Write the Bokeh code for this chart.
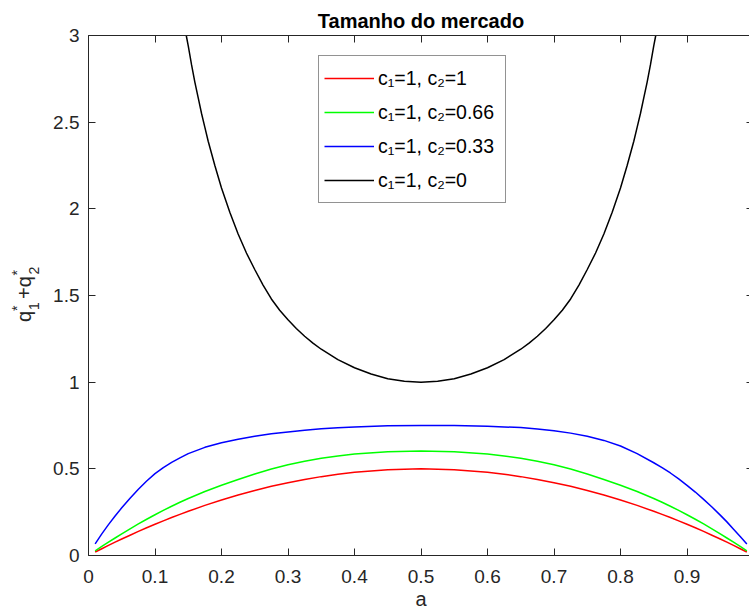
import math
from bokeh.plotting import figure
from bokeh.models import (Range1d, LinearAxis, FixedTicker, Label, Legend, LegendItem,
                          CustomLabelingPolicy)
from bokeh.embed import file_html
from bokeh.resources import INLINE

# ---- data ----
a_grid = [0.01, 0.02, 0.03, 0.04, 0.05, 0.0625, 0.075, 0.0875, 0.1, 0.1125, 0.125, 0.1375, 0.15, 0.175,
          0.2, 0.225, 0.25, 0.275, 0.3, 0.325, 0.35, 0.375, 0.4, 0.45, 0.5,
          0.55, 0.6, 0.625, 0.65, 0.675, 0.7, 0.725, 0.75, 0.775, 0.8, 0.825, 0.85, 0.8625, 0.875,
          0.8875, 0.9, 0.9125, 0.925, 0.9375, 0.95, 0.96, 0.97, 0.98, 0.99]
red_vals = [0.02, 0.039, 0.058, 0.077, 0.095, 0.117, 0.139, 0.16, 0.18, 0.2, 0.219, 0.237, 0.255, 0.289,
            0.32, 0.349, 0.375, 0.399, 0.42, 0.439, 0.455, 0.469, 0.48, 0.495, 0.5,
            0.495, 0.48, 0.469, 0.455, 0.439, 0.42, 0.399, 0.375, 0.349, 0.32, 0.289, 0.255, 0.237, 0.219,
            0.2, 0.18, 0.16, 0.139, 0.117, 0.095, 0.077, 0.058, 0.039, 0.02]
green_vals = [0.027, 0.052, 0.077, 0.101, 0.125, 0.154, 0.182, 0.209, 0.235, 0.26, 0.284, 0.307, 0.329, 0.369,
              0.405, 0.438, 0.47, 0.499, 0.524, 0.544, 0.561, 0.574, 0.585, 0.598, 0.603,
              0.598, 0.585, 0.574, 0.561, 0.544, 0.524, 0.499, 0.47, 0.438, 0.405, 0.369, 0.329, 0.307, 0.284,
              0.26, 0.235, 0.209, 0.182, 0.154, 0.125, 0.101, 0.077, 0.052, 0.027]
blue_vals = [0.067, 0.125, 0.178, 0.228, 0.275, 0.33, 0.382, 0.43, 0.472, 0.507, 0.537, 0.563, 0.588, 0.624,
             0.651, 0.671, 0.688, 0.702, 0.713, 0.723, 0.731, 0.737, 0.742, 0.748, 0.75,
             0.75, 0.746, 0.742, 0.738, 0.730, 0.72, 0.706, 0.688, 0.664, 0.632, 0.588, 0.535, 0.507, 0.476,
             0.442, 0.405, 0.366, 0.324, 0.28, 0.233, 0.194, 0.152, 0.11, 0.067]
a_black = [0.147, 0.15, 0.155, 0.16, 0.165, 0.17, 0.175, 0.18, 0.19, 0.2, 0.2125, 0.225, 0.2375, 0.25,
           0.2625, 0.275, 0.2875, 0.3, 0.3125, 0.325, 0.3375, 0.35, 0.375, 0.4, 0.425, 0.45, 0.475, 0.5,
           0.525, 0.55, 0.575, 0.6, 0.625, 0.65, 0.6625, 0.675, 0.6875, 0.7, 0.7125, 0.725, 0.7375, 0.75,
           0.7625, 0.775, 0.7875, 0.8, 0.81, 0.82, 0.825, 0.83, 0.835, 0.84, 0.845, 0.85, 0.853]
black_vals = [3.0, 2.94, 2.83, 2.73, 2.64, 2.55, 2.47, 2.39, 2.25, 2.12, 1.98, 1.855, 1.745, 1.65,
              1.56, 1.48, 1.415, 1.36, 1.31, 1.265, 1.225, 1.19, 1.13, 1.083, 1.047, 1.02, 1.005, 1.0,
              1.005, 1.02, 1.047, 1.083, 1.13, 1.19, 1.225, 1.265, 1.31, 1.36, 1.415, 1.48, 1.56, 1.65,
              1.745, 1.855, 1.98, 2.12, 2.25, 2.39, 2.47, 2.55, 2.64, 2.73, 2.83, 2.94, 3.0]

series_labels = ["c\u2081=1, c\u2082=1", "c\u2081=1, c\u2082=0.66", "c\u2081=1, c\u2082=0.33", "c\u2081=1, c\u2082=0"]
series_colors = ["#FF0000", "#00FF00", "#0000FF", "#000000"]

x_ticks = [0, 0.1, 0.2, 0.3, 0.4, 0.5, 0.6, 0.7, 0.8, 0.9]
x_tick_labels = ["0", "0.1", "0.2", "0.3", "0.4", "0.5", "0.6", "0.7", "0.8", "0.9"]
y_ticks = [0, 0.5, 1, 1.5, 2, 2.5, 3]
y_tick_labels = ["0", "0.5", "1", "1.5", "2", "2.5", "3"]
x_axis_span = (0, 1)
y_axis_span = (0, 3)

title_text = "Tamanho do mercado"
x_label = "a"

# ---- layout (pixel geometry of the axes box) ----
W, H = 749, 610
FONT = "Liberation Sans"
AX = "#262626"
L, T, B = 88, 35, 555
PX_PER_X = 665.0
PX_PER_Y = (B - T) / 3.0
MID = 0.3465  # distance (in em) from alphabetic baseline up to the middle of the text box

p = figure(width=W, height=H, output_backend="svg", toolbar_location=None,
           x_range=Range1d(-L / PX_PER_X, (W - L) / PX_PER_X),
           y_range=Range1d(-(H - B) / PX_PER_Y, 3 + T / PX_PER_Y),
           x_axis_location=None, y_axis_location=None,
           min_border=0, min_border_left=0, min_border_right=0, min_border_top=0, min_border_bottom=0,
           background_fill_color="white", border_fill_color="white")
p.outline_line_color = None
p.grid.visible = False

no_labels = CustomLabelingPolicy(code="""
const all = [...indices];
for (const i of all) { indices.unset(i); }
return indices;
""")


def make_axis(ticks, labels, bounds, loc, show_labels=True, tick_in=7):
    ax = LinearAxis(ticker=FixedTicker(ticks=ticks), fixed_location=loc, bounds=bounds)
    ax.axis_line_color = AX
    ax.axis_line_width = 1
    ax.major_tick_line_color = AX
    ax.major_tick_line_width = 1
    ax.major_tick_in = tick_in
    ax.major_tick_out = 0
    ax.minor_tick_in = 0
    ax.minor_tick_out = 0
    ax.major_label_text_font = FONT
    ax.major_label_text_color = AX
    if show_labels:
        ax.major_label_overrides = {t: s for t, s in zip(ticks, labels)}
        ax.major_label_text_font_size = "19px"
    else:
        ax.major_label_policy = no_labels
        ax.major_label_text_font_size = "0px"
        ax.major_label_standoff = 0
    return ax


xa = make_axis(x_ticks, x_tick_labels, x_axis_span, y_axis_span[0])
xa.major_label_standoff = 14
p.add_layout(xa, "below")
ya = make_axis(y_ticks, y_tick_labels, y_axis_span, x_axis_span[0])
ya.major_label_standoff = 9
p.add_layout(ya, "left")
top_ax = make_axis(x_ticks, x_tick_labels, x_axis_span, y_axis_span[1], show_labels=False)
p.add_layout(top_ax, "above")
right_ax = make_axis(y_ticks, y_tick_labels, y_axis_span, x_axis_span[1], show_labels=False)
p.add_layout(right_ax, "right")

# ---- curves ----
r1 = p.line(a_grid, red_vals, line_color=series_colors[0], line_width=1.5)
r2 = p.line(a_grid, green_vals, line_color=series_colors[1], line_width=1.5)
r3 = p.line(a_grid, blue_vals, line_color=series_colors[2], line_width=1.5)
r4 = p.line(a_black, black_vals, line_color=series_colors[3], line_width=1.5)

legend = Legend(items=[LegendItem(label=lab, renderers=[r]) for lab, r in zip(series_labels, [r1, r2, r3, r4])],
                location=(318, H - 203),
                padding=5, margin=0, spacing=0, glyph_width=50, glyph_height=34, label_height=34,
                label_width=122, label_standoff=4,
                label_text_font=FONT, label_text_font_size="19.5px", label_text_color="#000000",
                border_line_color=AX, border_line_width=1, background_fill_color="white",
                background_fill_alpha=1.0)
p.add_layout(legend, "center")


def sx(px):
    return (px - L) / PX_PER_X


def sy(py):
    return (B - py) / PX_PER_Y


# ---- title (baseline at y=27 px) ----
p.add_layout(Label(x=sx(420.5), y=sy(27 - MID * 20), text=title_text, text_align="center",
                   text_baseline="middle", text_font=FONT, text_font_size="20px",
                   text_font_style="bold", text_color="#000000"))

# ---- y axis label composed of pieces: q_1^* + q_2^* (baseline x, start y, font px) ----
ylab_pieces = [("q", 30.7, 321.5, 20), ("1", 38.0, 309.5, 14), ("*", 21.5, 310.5, 14),
               ("+q", 30.7, 298.5, 20), ("2", 38.0, 274.0, 14), ("*", 21.5, 275.0, 14)]
for txt, px, py, fs in ylab_pieces:
    p.add_layout(Label(x=sx(px - MID * fs), y=sy(py), text=txt, angle=math.pi / 2, text_align="left",
                       text_baseline="middle", text_font=FONT, text_font_size=f"{fs}px", text_color=AX))

# ---- x axis label (baseline near the bottom edge) ----
p.add_layout(Label(x=sx(420.5), y=sy(605.5 - MID * 20), text=x_label, text_align="center",
                   text_baseline="middle", text_font=FONT, text_font_size="20px", text_color=AX))

open("out.html", "w").write(file_html(p, INLINE))
